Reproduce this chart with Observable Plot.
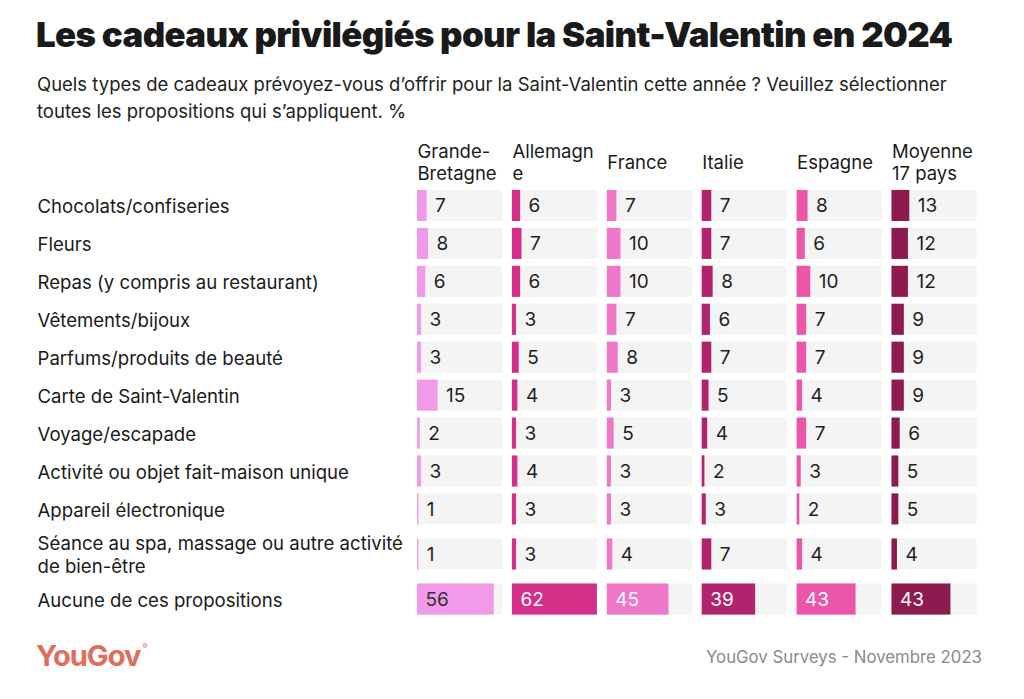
<!DOCTYPE html>
<html>
<head>
<meta charset="utf-8">
<script src="https://cdn.jsdelivr.net/npm/d3@7"></script>
<script src="https://cdn.jsdelivr.net/npm/@observablehq/plot@0.6"></script>
<style>
  html, body { margin: 0; padding: 0; background: #fff; }
  #wrap { position: relative; width: 1024px; height: 699px; overflow: hidden; font-family: Inter, "Open Sans", sans-serif; color: #1a1a1a; }
  #title { position: absolute; left: 36px; top: 13px; margin: 0; font-size: 34.8px; font-weight: 900; letter-spacing: -0.6px; white-space: nowrap; }
  #subtitle { position: absolute; left: 37px; top: 71px; margin: 0; font-size: 18.5px; line-height: 27px; font-weight: 400; color: #222; white-space: nowrap; }
  #chart { position: absolute; left: 0; top: 130px; }
  #logo { position: absolute; left: 36px; top: 638px; font-size: 29px; font-weight: 700; color: #e16e5c; letter-spacing: -1px; }
  #logo sup { font-size: 8px; font-weight: 400; vertical-align: 17px; margin-left: 2px; letter-spacing: 0; }
  #source { position: absolute; right: 42px; top: 647px; font-size: 16.8px; color: #8a8a8a; white-space: nowrap; }
</style>
</head>
<body>
<div id="wrap">
  <h1 id="title">Les cadeaux privilégiés pour la Saint-Valentin en 2024</h1>
  <p id="subtitle">Quels types de cadeaux prévoyez-vous d’offrir pour la Saint-Valentin cette année ? Veuillez sélectionner<br>toutes les propositions qui s’appliquent. %</p>
  <div id="chart"></div>
  <div id="logo">YouGov<sup>®</sup></div>
  <div id="source">YouGov Surveys - Novembre 2023</div>
</div>
<script>
// ---- Data ----
const categories = [
  "Chocolats/confiseries",
  "Fleurs",
  "Repas (y compris au restaurant)",
  "Vêtements/bijoux",
  "Parfums/produits de beauté",
  "Carte de Saint-Valentin",
  "Voyage/escapade",
  "Activité ou objet fait-maison unique",
  "Appareil électronique",
  "Séance au spa, massage ou autre activité\nde bien-être",
  "Aucune de ces propositions"
];
const countries = ["Grande-Bretagne", "Allemagne", "France", "Italie", "Espagne", "Moyenne 17 pays"];
const headerLabels = ["Grande-\nBretagne", "Allemagn\ne", "France", "Italie", "Espagne", "Moyenne\n17 pays"];
const grandeBretagne = [7, 8, 6, 3, 3, 15, 2, 3, 1, 1, 56];
const allemagne      = [6, 7, 6, 3, 5, 4, 3, 4, 3, 3, 62];
const france         = [7, 10, 10, 7, 8, 3, 5, 3, 3, 4, 45];
const italie         = [7, 7, 8, 6, 7, 5, 4, 2, 3, 7, 39];
const espagne        = [8, 6, 10, 7, 7, 4, 7, 3, 2, 4, 43];
const moyenne        = [13, 12, 12, 9, 9, 9, 6, 5, 5, 4, 43];
const colors = ["#f09ae9", "#d42e89", "#ee77c9", "#b2226d", "#eb55aa", "#8e1b4f"];

// ---- Build table ----
const series = [grandeBretagne, allemagne, france, italie, espagne, moyenne];
// row slots: multi-line labels take more vertical room
const slots = categories.map(c => 1 + 0.375 * (c.split("\n").length - 1));
const centers = [];
let acc = 0;
for (const s of slots) { centers.push(acc + s / 2); acc += s; }
const total = acc;
const half = 0.41;
const rows = [];
countries.forEach((country, ci) => {
  categories.forEach((category, ri) => {
    rows.push({country, category, value: series[ci][ri], center: centers[ri], last: ri === categories.length - 1});
  });
});
const vmax = d3.max(rows, d => d.value);
const header = new Map(countries.map((c, i) => [c, headerLabels[i]]));

const marginLeft = 417, marginRight = 47.5, marginTop = 56.5, marginBottom = 2;
const chart = Plot.plot({
  width: 1024,
  height: 490,
  marginLeft, marginRight, marginTop, marginBottom,
  style: {fontFamily: "Inter, 'Open Sans', sans-serif", fontSize: "18.5px", color: "#1a1a1a", background: "transparent"},
  fx: {domain: countries, paddingInner: 0.104, paddingOuter: 0, round: false, axis: null},
  x: {domain: [0, vmax], axis: null},
  y: {domain: [0, total], reverse: true, axis: null},
  color: {domain: countries, range: colors},
  marks: [
    Plot.rect(rows, {fx: "country", x1: 0, x2: vmax, y1: d => d.center - half, y2: d => d.center + half, fill: "#f4f4f4"}),
    Plot.rect(rows, {fx: "country", x1: 0, x2: "value", y1: d => d.center - half, y2: d => d.center + half, fill: "country"}),
    Plot.text(rows.filter(d => !d.last), {fx: "country", x: "value", y: "center", text: d => String(d.value), dx: 8, textAnchor: "start", fill: "#1f1f1f", fontSize: 19}),
    Plot.text(rows.filter(d => d.last), {fx: "country", x: 0, y: "center", text: d => String(d.value), dx: 8, textAnchor: "start", fill: d => d.country === countries[0] ? "#333" : "#fff", fontSize: 19}),
    Plot.text(countries, {fx: d => d, frameAnchor: "top-left", text: d => header.get(d), dy: -25, lineAnchor: "middle", lineHeight: 1.16, textAnchor: "start", fill: "#1a1a1a", fontSize: 18.5}),
    Plot.text(categories, {fx: () => countries[0], x: 0, y: (d, i) => centers[i], text: d => d, textAnchor: "start", dx: -(marginLeft - 37), lineAnchor: "middle", lineHeight: 1.2, fill: "#1a1a1a", fontSize: 18.6})
  ]
});
document.getElementById("chart").appendChild(chart);
</script>
</body>
</html>
